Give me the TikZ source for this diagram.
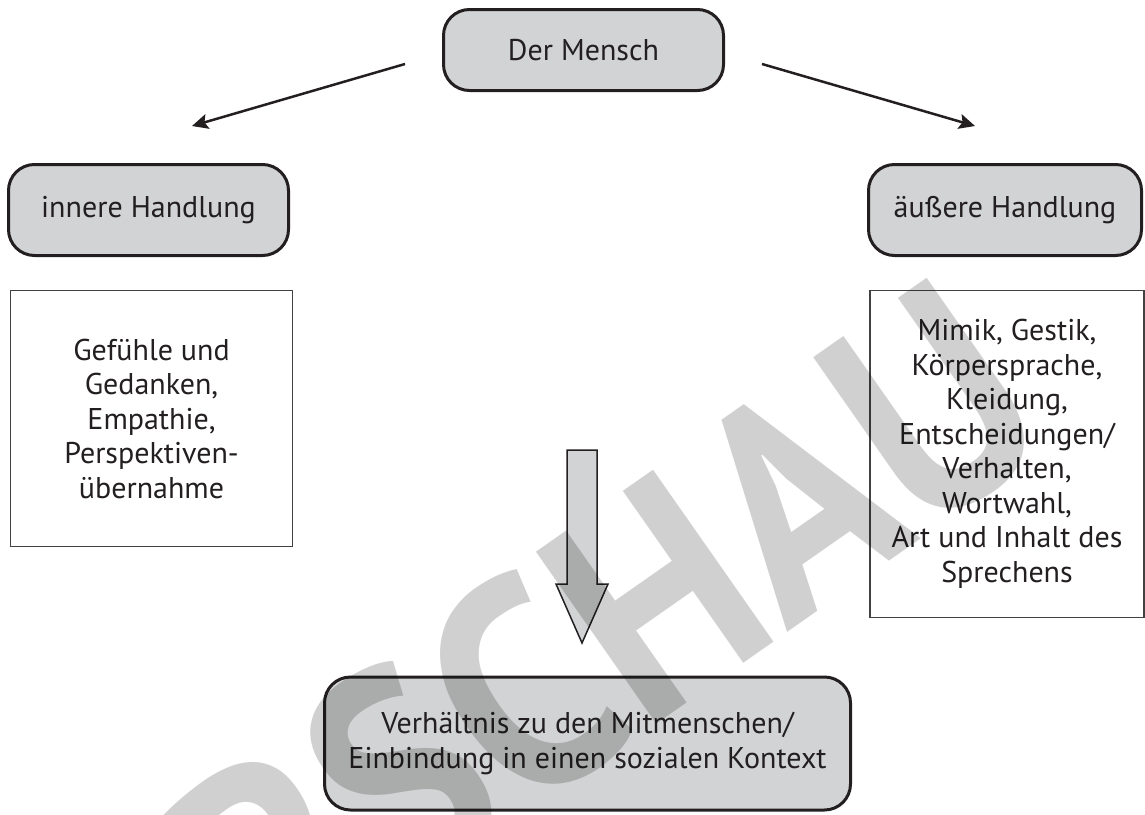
\documentclass[tikz,border=0pt]{standalone}
\usepackage{fontspec}
\setmainfont{PT Sans}
\newfontfamily\wmfont{PT Sans}
\usetikzlibrary{arrows.meta}
\definecolor{boxgray}{HTML}{D1D3D4}
\definecolor{ink}{HTML}{231F20}
\definecolor{wm}{HTML}{D0D0D0}
\begin{document}
\begin{tikzpicture}[x=1pt,y=-1pt,
  txt/.style={font=\fontsize{30pt}{34.5pt}\selectfont, text=ink, align=center, inner sep=0pt},
  roundbox/.style={txt, draw=ink, line width=3pt, fill=boxgray, rounded corners=26pt},
  plainbox/.style={txt, draw=ink!85, line width=1.5pt, fill=white},
  conn/.style={draw=ink, line width=2.5pt, -{Stealth[length=16pt,width=15pt,inset=3pt]}},
  blockarrow/.style={draw=ink, line width=1.5pt, fill=boxgray, line join=miter}]
\useasboundingbox (0,0) rectangle (1145,814);
% top
\node[roundbox, minimum width=280pt, minimum height=81pt] (mensch) at (583.5,50) {Der Mensch};
% side headers
\node[roundbox, minimum width=280pt, minimum height=91pt] (innere) at (148.5,210) {innere Handlung};
\node[roundbox, minimum width=273pt, minimum height=91pt] (aeussere) at (1005,210) {äußere Handlung};
% content boxes
\node[plainbox, minimum width=282pt, minimum height=256pt] (gefuehle) at (151.5,418.5)
  {Gefühle und\\Gedanken,\\Empathie,\\Perspektiven-\\übernahme};
\node[plainbox, minimum width=274pt, minimum height=327pt] (mimik) at (1007,454)
  {Mimik, Gestik,\\Körpersprache,\\Kleidung,\\Entscheidungen/\\Verhalten,\\Wortwahl,\\Art und Inhalt des\\Sprechens};
% bottom
\node[roundbox, minimum width=526pt, minimum height=133pt] (kontext) at (587.5,743.5)
  {Verhältnis zu den Mitmenschen/\\Einbindung in einen sozialen Kontext};
% connectors
\coordinate (ls) at (405,64);
\coordinate (le) at (192,126);
\coordinate (rs) at (762,64);
\coordinate (re) at (975,126);
\draw[conn] (ls) -- (le);
\draw[conn] (rs) -- (re);
% block arrow
\draw[blockarrow] (567,450) -- (597,450) -- (597,584) -- (608,584) -- (582,643)
  -- (556,584) -- (567,584) -- cycle;
% watermark
\begin{scope}[blend mode=multiply]
\clip (0,0) rectangle (1145,814);
\node[text=wm, font=\wmfont\bfseries\fontsize{300pt}{300pt}\selectfont, rotate=35, xscale=0.9, inner sep=0pt] (wmark) at (468,728) {VORSCHAU};
\end{scope}
\end{tikzpicture}
\end{document}
